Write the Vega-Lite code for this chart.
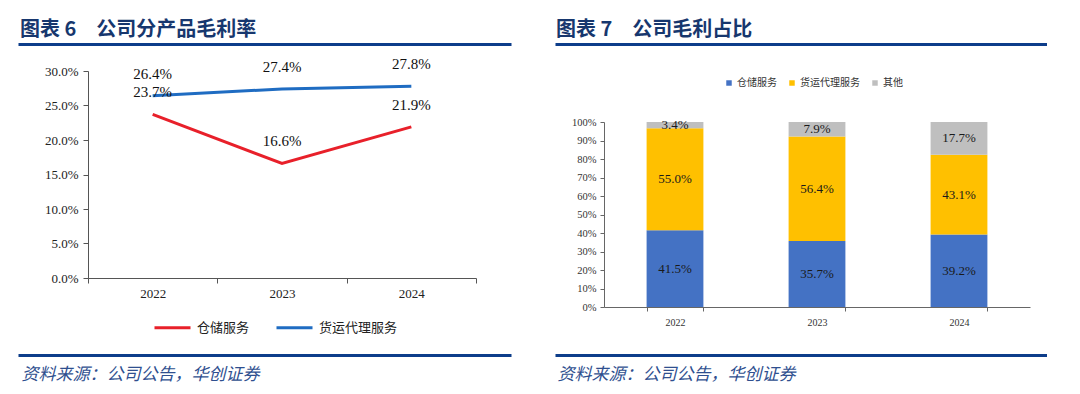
{
  "$schema": "https://vega.github.io/schema/vega-lite/v6.json",
  "background": "white",
  "padding": {"left": 18, "top": 20, "right": 0, "bottom": 12},
  "bounds": "flush",
  "spacing": 44,
  "config": {"view": {"stroke": null}},
  "resolve": {"scale": {"color": "independent"}, "legend": {"color": "independent"}},
  "datasets": {
    "lines": [
      {"year": "2022", "series": "仓储服务", "value": 0.237},
      {"year": "2023", "series": "仓储服务", "value": 0.166},
      {"year": "2024", "series": "仓储服务", "value": 0.219},
      {"year": "2022", "series": "货运代理服务", "value": 0.264},
      {"year": "2023", "series": "货运代理服务", "value": 0.274},
      {"year": "2024", "series": "货运代理服务", "value": 0.278}
    ],
    "bars": [
      {"year": "2022", "series": "仓储服务", "order": 1, "value": 0.415},
      {"year": "2022", "series": "货运代理服务", "order": 2, "value": 0.550},
      {"year": "2022", "series": "其他", "order": 3, "value": 0.034},
      {"year": "2023", "series": "仓储服务", "order": 1, "value": 0.357},
      {"year": "2023", "series": "货运代理服务", "order": 2, "value": 0.564},
      {"year": "2023", "series": "其他", "order": 3, "value": 0.079},
      {"year": "2024", "series": "仓储服务", "order": 1, "value": 0.392},
      {"year": "2024", "series": "货运代理服务", "order": 2, "value": 0.431},
      {"year": "2024", "series": "其他", "order": 3, "value": 0.177}
    ]
  },
  "hconcat": [
    {
      "width": 493,
      "height": 311,
      "title": {"text": "图表 6　公司分产品毛利率", "anchor": "start", "frame": "group", "dx": 2, "baseline": "bottom", "offset": -16, "font": "Noto Sans CJK SC", "fontSize": 20, "fontWeight": "bold", "color": "#17376e"},
      "layer": [
        {
          "data": {"name": "lines"},
          "mark": {"type": "rule", "opacity": 0},
          "encoding": {"x": {"datum": 0, "type": "quantitative", "scale": {"domain": [0, 1]}, "axis": {"orient": "top", "minExtent": 0, "maxExtent": 0, "domainColor": "#0d3d8a", "domainWidth": 3, "ticks": false, "labels": false, "grid": false, "title": null}}}
        },
        {
          "data": {"name": "lines"},
          "mark": {"type": "rule", "opacity": 0},
          "encoding": {"x": {"datum": 0, "type": "quantitative", "scale": {"domain": [0, 1]}, "axis": {"orient": "bottom", "minExtent": 0, "maxExtent": 0, "domainColor": "#0d3d8a", "domainWidth": 3, "ticks": false, "labels": false, "grid": false, "title": "资料来源：公司公告，华创证券", "titleX": 3, "titleAlign": "left", "titleBaseline": "top", "titlePadding": 11, "titleFont": "Noto Sans CJK SC", "titleFontStyle": "italic", "titleFontWeight": "normal", "titleFontSize": 17, "titleColor": "#2f4f8f"}}}
        },
        {
          "data": {"name": "lines"},
          "encoding": {
            "x": {"field": "year", "type": "ordinal", "scale": {"type": "band", "range": [70, 458], "paddingInner": 0, "paddingOuter": 0},
              "axis": {"orient": "bottom", "offset": -77, "title": null, "labelAngle": 0, "tickBand": "extent", "domainColor": "#555555", "tickColor": "#555555", "tickSize": 5, "labelFont": "Liberation Serif", "labelFontSize": 13, "labelColor": "#222222", "labelPadding": 4, "grid": false}},
            "y": {"field": "value", "type": "quantitative", "scale": {"domain": [0, 0.3], "range": [234, 27], "nice": false},
              "axis": {"orient": "left", "offset": -70, "title": null, "values": [0, 0.05, 0.1, 0.15, 0.2, 0.25, 0.3], "format": ".1%", "labelOverlap": false, "domainColor": "#555555", "tickColor": "#555555", "tickSize": 5, "labelFont": "Liberation Serif", "labelFontSize": 13, "labelColor": "#222222", "labelPadding": 5, "grid": false}}
          },
          "layer": [
            {
              "mark": {"type": "line", "strokeWidth": 3},
              "encoding": {"color": {"field": "series", "type": "nominal", "scale": {"domain": ["仓储服务", "货运代理服务"], "range": ["#e8202a", "#1f6cc2"]},
                "legend": {"orient": "none", "legendX": 135, "legendY": 264, "direction": "horizontal", "title": null, "symbolType": "stroke", "symbolSize": 1296, "symbolStrokeWidth": 3, "labelFont": "Noto Sans CJK SC", "labelFontSize": 13, "labelColor": "#222222", "labelOffset": 5, "columnPadding": 20}}}
            },
            {
              "mark": {"type": "text", "dy": -22, "font": "Liberation Serif", "fontSize": 15, "color": "#111111"},
              "encoding": {"text": {"field": "value", "type": "quantitative", "format": ".1%"}, "detail": {"field": "series"}}
            }
          ]
        }
      ],
      "resolve": {"scale": {"x": "independent"}}
    },
    {
      "width": 492,
      "height": 311,
      "title": {"text": "图表 7　公司毛利占比", "anchor": "start", "frame": "group", "dx": 1, "baseline": "bottom", "offset": -16, "font": "Noto Sans CJK SC", "fontSize": 20, "fontWeight": "bold", "color": "#17376e"},
      "layer": [
        {
          "data": {"name": "bars"},
          "mark": {"type": "rule", "opacity": 0},
          "encoding": {"x": {"datum": 0, "type": "quantitative", "scale": {"domain": [0, 1]}, "axis": {"orient": "top", "minExtent": 0, "maxExtent": 0, "domainColor": "#0d3d8a", "domainWidth": 3, "ticks": false, "labels": false, "grid": false, "title": null}}}
        },
        {
          "data": {"name": "bars"},
          "mark": {"type": "rule", "opacity": 0},
          "encoding": {"x": {"datum": 0, "type": "quantitative", "scale": {"domain": [0, 1]}, "axis": {"orient": "bottom", "minExtent": 0, "maxExtent": 0, "domainColor": "#0d3d8a", "domainWidth": 3, "ticks": false, "labels": false, "grid": false, "title": "资料来源：公司公告，华创证券", "titleX": 2, "titleAlign": "left", "titleBaseline": "top", "titlePadding": 11, "titleFont": "Noto Sans CJK SC", "titleFontStyle": "italic", "titleFontWeight": "normal", "titleFontSize": 17, "titleColor": "#2f4f8f"}}}
        },
        {
          "data": {"name": "bars"},
          "encoding": {
            "x": {"field": "year", "type": "ordinal", "scale": {"type": "band", "range": [49, 475], "paddingInner": 0.6, "paddingOuter": 0.3},
              "axis": {"orient": "bottom", "offset": -48, "title": null, "labelAngle": 0, "tickBand": "extent", "domainColor": "#666666", "tickColor": "#666666", "tickSize": 4, "labelFont": "Liberation Serif", "labelFontSize": 10, "labelColor": "#333333", "labelPadding": 6, "grid": false}}
          },
          "layer": [
            {
              "transform": [
                {"stack": "value", "groupby": ["year"], "sort": [{"field": "order"}], "offset": "normalize", "as": ["v0", "v1"]}
              ],
              "mark": {"type": "bar"},
              "encoding": {
                "y": {"field": "v0", "type": "quantitative", "scale": {"domain": [0, 1], "range": [263, 78], "nice": false},
                  "axis": {"orient": "left", "offset": -49, "title": null, "values": [0, 0.1, 0.2, 0.3, 0.4, 0.5, 0.6, 0.7, 0.8, 0.9, 1], "format": ".0%", "labelOverlap": false, "domainColor": "#666666", "tickColor": "#666666", "tickSize": 4, "labelFont": "Liberation Serif", "labelFontSize": 10.5, "labelColor": "#333333", "labelPadding": 4, "grid": false}},
                "y2": {"field": "v1"},
                "color": {"field": "series", "type": "nominal", "scale": {"domain": ["仓储服务", "货运代理服务", "其他"], "range": ["#4472c4", "#ffc000", "#bfbfbf"]},
                  "legend": {"orient": "none", "legendX": 169, "legendY": 34, "direction": "horizontal", "title": null, "symbolType": "square", "symbolSize": 30, "symbolStrokeWidth": 0, "labelFont": "Noto Sans CJK SC", "labelFontSize": 10, "labelColor": "#333333", "labelOffset": 3, "columnPadding": 10}}
              }
            },
            {
              "transform": [
                {"stack": "value", "groupby": ["year"], "sort": [{"field": "order"}], "offset": "normalize", "as": ["v0", "v1"]},
                {"fold": ["v0", "v1"], "as": ["edge", "pos"]},
                {"aggregate": [{"op": "mean", "field": "pos", "as": "mid"}, {"op": "max", "field": "value", "as": "share"}], "groupby": ["year", "series"]}
              ],
              "mark": {"type": "text", "font": "Liberation Serif", "fontSize": 13, "color": "#1a1a1a"},
              "encoding": {
                "y": {"field": "mid", "type": "quantitative", "scale": {"domain": [0, 1], "range": [263, 78], "nice": false},
                  "axis": {"orient": "left", "offset": -49, "title": null, "values": [0, 0.1, 0.2, 0.3, 0.4, 0.5, 0.6, 0.7, 0.8, 0.9, 1], "format": ".0%", "labelOverlap": false, "domainColor": "#666666", "tickColor": "#666666", "tickSize": 4, "labelFont": "Liberation Serif", "labelFontSize": 10.5, "labelColor": "#333333", "labelPadding": 4, "grid": false}},
                "text": {"field": "share", "type": "quantitative", "format": ".1%"}
              }
            }
          ]
        }
      ],
      "resolve": {"scale": {"x": "independent"}}
    }
  ]
}
